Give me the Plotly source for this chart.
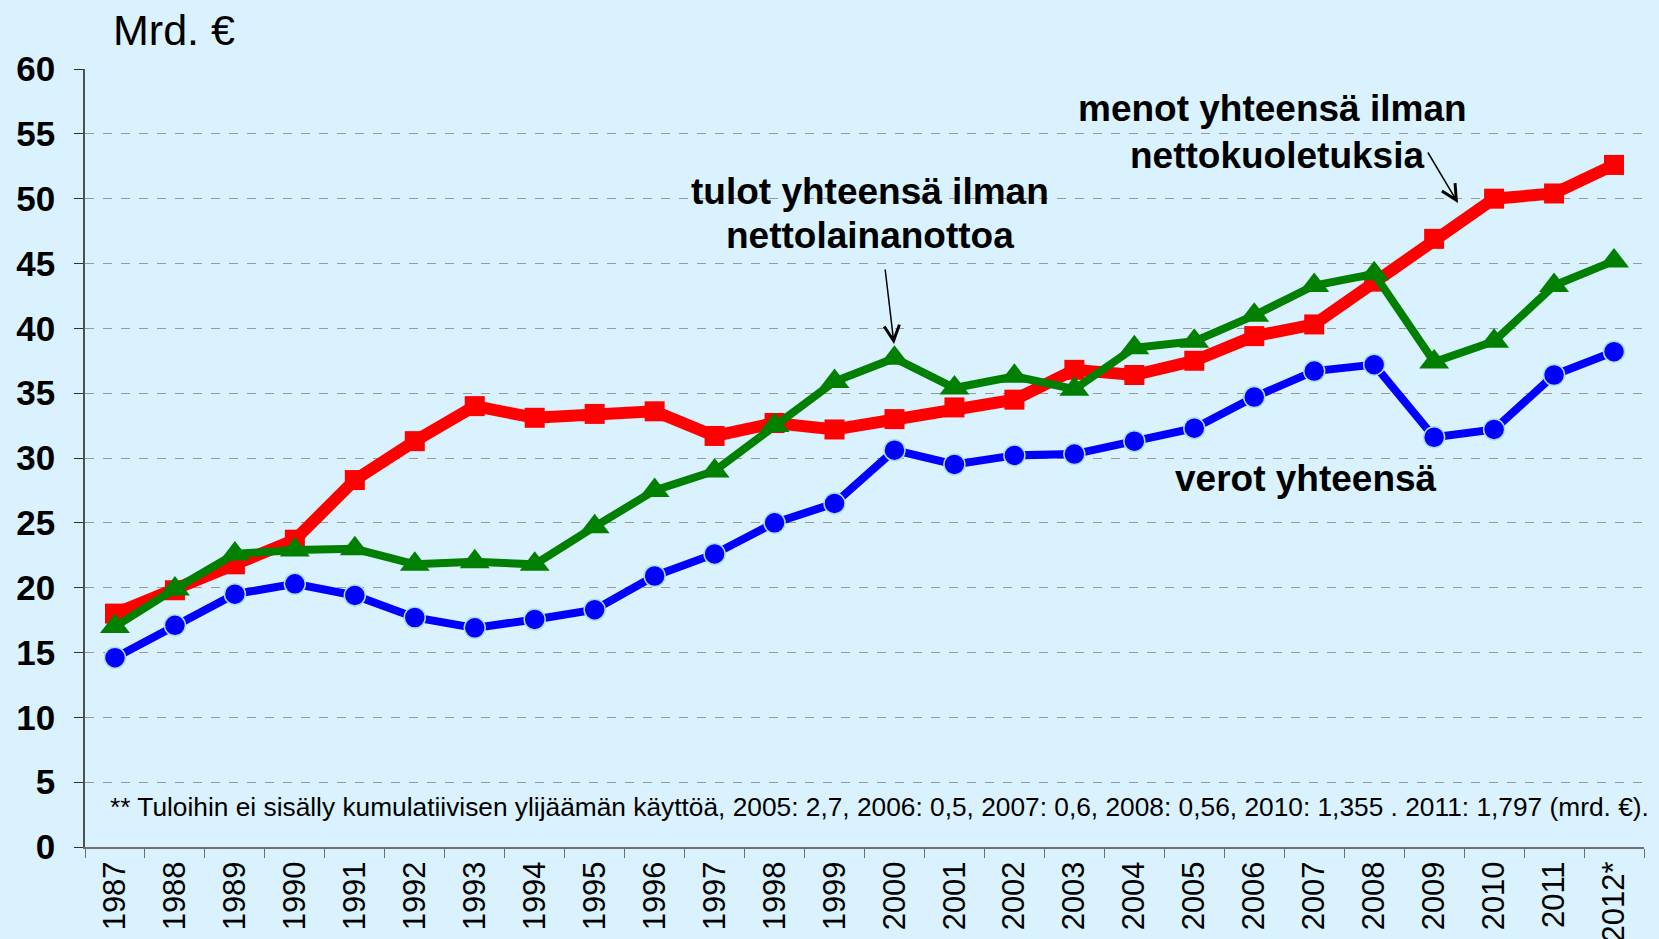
import plotly.graph_objects as go

# Vuodet ja sarjat (mrd. €), luettu kuvasta
years = [str(y) for y in range(1987, 2012)] + ["2012*"]

menot = [18.0, 19.8, 21.8, 23.7, 28.3, 31.3, 34.0, 33.1, 33.4, 33.6, 31.7, 32.7, 32.2,
         33.0, 33.9, 34.5, 36.8, 36.4, 37.5, 39.4, 40.3, 43.6, 46.9, 50.0, 50.4, 52.6]
tulot = [17.0, 19.9, 22.6, 22.9, 23.0, 21.8, 22.0, 21.8, 24.7, 27.5, 29.0, 32.5, 35.9,
         37.7, 35.4, 36.3, 35.3, 38.5, 39.0, 41.0, 43.3, 44.2, 37.4, 39.0, 43.3, 45.2]
verot = [14.6, 17.1, 19.5, 20.3, 19.4, 17.7, 16.9, 17.55, 18.3, 20.9, 22.6, 25.0, 26.5,
         30.6, 29.5, 30.2, 30.3, 31.3, 32.3, 34.7, 36.7, 37.2, 31.6, 32.2, 36.4, 38.2]

y_ticks = [0, 5, 10, 15, 20, 25, 30, 35, 40, 45, 50, 55, 60]

footnote = ("** Tuloihin ei sisälly kumulatiivisen ylijäämän käyttöä, 2005: 2,7, 2006: 0,5, "
            "2007: 0,6, 2008: 0,56, 2010: 1,355 . 2011: 1,797 (mrd. €).")

W, H = 1659, 939
ML, MR, MT, MB = 85, 15, 69, 92
BG = "#D9F2FD"
NARROW = "Liberation Sans Narrow, Arial Narrow, Liberation Sans, Arial"

def px(x):
    return (x - ML) / (W - ML - MR)

def py(y):
    return (H - MB - y) / (H - MT - MB)

fig = go.Figure()

fig.add_trace(go.Scatter(x=years, y=menot, mode="lines+markers", name="menot",
                         line=dict(color="#FF0000", width=12),
                         marker=dict(symbol="square", size=20, color="#FF0000")))
fig.add_trace(go.Scatter(x=years, y=tulot, mode="lines+markers", name="tulot",
                         line=dict(color="#007F00", width=8),
                         marker=dict(symbol="triangle-up", size=26, color="#007F00")))
fig.add_trace(go.Scatter(x=years, y=verot, mode="lines+markers", name="verot",
                         line=dict(color="#0000FF", width=8),
                         marker=dict(symbol="circle", size=21, color="#0000FF",
                                     line=dict(color="#A8E0F0", width=1.5))))

label_font = dict(family=NARROW, size=37, color="black")

annotations = [
    # sarjojen nimet
    dict(x=px(870), y=py(191), text="<b>tulot yhteensä ilman</b>"),
    dict(x=px(870), y=py(236), text="<b>nettolainanottoa</b>"),
    dict(x=px(1272), y=py(109), text="<b>menot yhteensä ilman</b>"),
    dict(x=px(1277), y=py(155), text="<b>nettokuoletuksia</b>"),
    dict(x=px(1306), y=py(478), text="<b>verot yhteensä</b>"),
]
for a in annotations:
    fig.add_annotation(xref="paper", yref="paper", showarrow=False,
                       xanchor="center", yanchor="middle", font=label_font, **a)

# nuolet (pää, häntä pikseleinä)
arrows = [((894, 344), (885, 268)), ((1458, 203), (1427, 151))]
for (hx, hy), (tx, ty) in arrows:
    fig.add_annotation(xref="paper", yref="paper", x=px(hx), y=py(hy),
                       ax=tx - hx, ay=ty - hy, text="",
                       showarrow=True, arrowhead=5, arrowsize=2, arrowwidth=1.5,
                       arrowcolor="black")

# yksikkö ja alaviite
fig.add_annotation(xref="paper", yref="paper", x=px(111), y=py(30), text="Mrd. €",
                   showarrow=False, xanchor="left", yanchor="middle",
                   font=dict(family=NARROW, size=43, color="black"))
fig.add_annotation(xref="paper", yref="paper", x=px(108), y=py(807), text=footnote,
                   showarrow=False, xanchor="left", yanchor="middle",
                   font=dict(family=NARROW, size=26.3, color="black"))

fig.update_layout(
    width=W, height=H,
    margin=dict(l=ML, r=MR, t=MT, b=MB),
    paper_bgcolor=BG, plot_bgcolor=BG,
    showlegend=False,
    xaxis=dict(type="category", range=[-0.5, 25.5], tickangle=-90, automargin=False,
               tickfont=dict(family="Liberation Sans, Arial", size=31, color="black"),
               showgrid=False, showline=True, linecolor="#707070", linewidth=2,
               ticks="outside", tickson="boundaries", ticklen=9, tickcolor="#707070"),
    yaxis=dict(range=[0, 60], tickvals=y_ticks, automargin=False,
               tickfont=dict(family=NARROW, size=35, color="black", weight="bold"),
               showgrid=True, gridcolor="#9A9A9A", griddash="dash", gridwidth=1,
               showline=True, linecolor="#505050", linewidth=1.5,
               ticks="outside", ticklen=9, tickcolor="#303030", zeroline=False,
               ticklabelstandoff=12),
)

# sivun oletusreunus pois, jotta kuva täyttää ikkunan
fig.write_html("out.html", config={"displayModeBar": False},
               post_script="document.body.style.margin='0';"
                           "document.body.style.background='" + BG + "';")
